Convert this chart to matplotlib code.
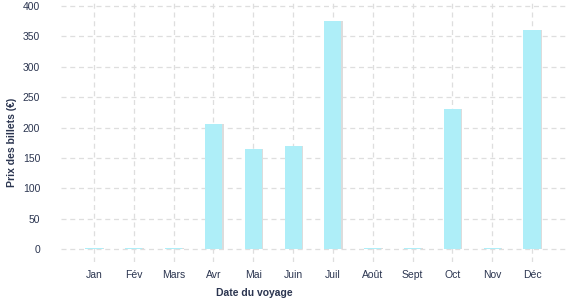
import numpy as np
import matplotlib.pyplot as plt
from matplotlib.transforms import offset_copy

months = ["Jan", "Fév", "Mars", "Avr", "Mai", "Juin", "Juil", "Août", "Sept", "Oct", "Nov", "Déc"]
prices = [2, 2, 2, 205, 164, 169, 376, 2, 2, 230, 2, 361]
yticks = [0, 50, 100, 150, 200, 250, 300, 350, 400]

text_col = "#2b3550"
bar_col = "#aeeef8"

plt.rcParams["font.family"] = ["Liberation Sans", "DejaVu Sans"]

fig = plt.figure(figsize=(5.77, 3.0), dpi=100)
ax = fig.add_axes([61 / 577, 1 - 262 / 300, (567 - 61) / 577, 262 / 300])

x = np.arange(len(months))
width = 0.43
# soft shadow behind each bar
shadow_tr = offset_copy(ax.transData, fig=fig, x=1.5, y=0, units="dots")
ax.bar(x, prices, width, color="#dcdcdc", transform=shadow_tr, zorder=2)
ax.bar(x, prices, width, color=bar_col, zorder=3)

ax.set_xlim(-0.83, 11.88)
ax.set_ylim(-21.5, 410)
ax.set_xticks(x)
ax.set_xticklabels(months)
ax.set_yticks(yticks)

ax.grid(True, color="#dedede", linestyle=(0, (4, 3)), linewidth=0.9, zorder=0)
ax.set_axisbelow(True)
for s in ax.spines.values():
    s.set_visible(False)
ax.tick_params(length=0, labelsize=7.5, colors=text_col, pad=6)
ax.tick_params(axis="y", pad=15)

ax.set_xlabel("Date du voyage", fontsize=7.5, fontweight="bold", color=text_col)
ax.set_ylabel("Prix des billets (€)", fontsize=7.5, fontweight="bold", color=text_col)
ax.xaxis.set_label_coords(0.383, -0.10)
ax.yaxis.set_label_coords(-0.087, 0.455)

fig.savefig("out.png", dpi=100)
